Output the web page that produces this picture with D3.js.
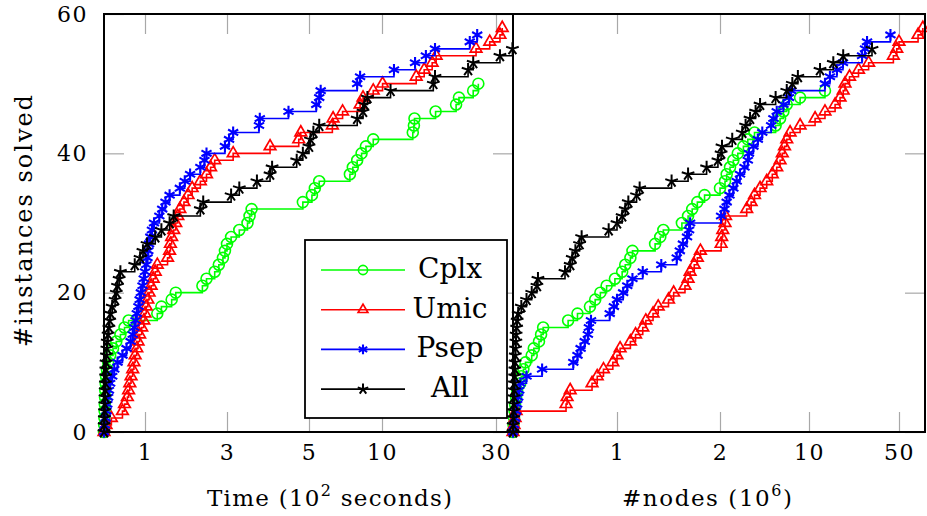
<!DOCTYPE html>
<html>
<head>
<meta charset="utf-8">
<script src="https://cdn.jsdelivr.net/npm/d3@7"></script>
<style>
  body { margin: 0; background: #fff; }
  svg { display: block; }
  text { font-family: "DejaVu Serif", serif; fill: #000; }
</style>
</head>
<body>
<svg id="chart" width="927" height="516"></svg>
<script>
// times (10^2 s) at which the k-th instance is solved, index = #instances
const cplxTime = [0, 0.005, 0.01, 0.015, 0.02, 0.025, 0.03, 0.04, 0.05, 0.07, 0.1, 0.15, 0.22, 0.3, 0.4, 0.5, 0.6, 1.3, 1.4, 1.65, 1.75, 2.4, 2.5, 2.7, 2.8, 2.9, 2.95, 3.0, 3.1, 3.3, 3.5, 3.55, 3.6, 4.85, 5.2, 5.4, 5.7, 7.8, 8.0, 8.3, 8.6, 8.9, 9.4, 15.4, 15.6, 15.7, 19.4, 23.0, 23.5, 26.0, 26.9]
const umicTime = [0, 0.05, 0.18, 0.45, 0.5, 0.57, 0.6, 0.63, 0.66, 0.7, 0.73, 0.76, 0.8, 0.83, 0.87, 0.92, 0.97, 1.0, 1.03, 1.07, 1.1, 1.15, 1.2, 1.25, 1.3, 1.55, 1.6, 1.62, 1.65, 1.7, 1.75, 1.8, 1.85, 1.95, 2.05, 2.15, 2.35, 2.5, 2.6, 2.7, 3.15, 4.05, 4.75, 4.8, 6.6, 6.65, 7.3, 8.5, 8.7, 9.4, 10.1, 16.0, 17.4, 18.8, 19.5, 26.5, 28.9, 30.7, 31.1]
const psepTime = [0, 0.02, 0.04, 0.06, 0.08, 0.1, 0.12, 0.15, 0.2, 0.25, 0.33, 0.45, 0.55, 0.65, 0.7, 0.74, 0.77, 0.8, 0.84, 0.87, 0.9, 0.94, 0.97, 1.0, 1.03, 1.06, 1.08, 1.1, 1.13, 1.17, 1.22, 1.35, 1.42, 1.5, 1.6, 1.85, 1.97, 2.1, 2.35, 2.45, 2.5, 2.95, 3.05, 3.15, 3.78, 3.8, 4.5, 5.5, 5.7, 5.8, 8.3, 8.5, 12.1, 15.8, 17.7, 19.3, 25.4, 26.7]
const allTime = [0, 0.005, 0.01, 0.015, 0.02, 0.025, 0.03, 0.035, 0.04, 0.045, 0.05, 0.06, 0.07, 0.08, 0.1, 0.12, 0.14, 0.16, 0.2, 0.27, 0.3, 0.33, 0.37, 0.4, 0.75, 0.88, 0.95, 1.05, 1.25, 1.4, 1.6, 1.7, 2.35, 2.42, 3.1, 3.3, 3.73, 4.05, 4.1, 4.7, 4.85, 5.0, 5.1, 5.3, 5.7, 8.3, 8.7, 8.8, 9.0, 11.5, 19.0, 19.3, 25.1, 26.0, 30.7, 32.9]

// nodes (10^6) needed for the k-th instance
const cplxNodes = [0, 0.005, 0.01, 0.015, 0.02, 0.03, 0.04, 0.07, 0.08, 0.1, 0.12, 0.18, 0.2, 0.25, 0.27, 0.29, 0.53, 0.62, 0.74, 0.79, 0.84, 0.9, 0.98, 1.05, 1.08, 1.13, 1.15, 1.37, 1.42, 1.45, 1.63, 1.69, 1.73, 1.78, 1.85, 2.0, 2.45, 2.6, 2.9, 3.2, 3.6, 4.1, 4.5, 5.1, 7.0, 7.4, 7.7, 8.0, 9.2, 17.1]
const umicNodes = [0, 0.01, 0.02, 0.03, 0.51, 0.52, 0.55, 0.76, 0.81, 0.87, 0.96, 1.0, 1.03, 1.13, 1.18, 1.25, 1.28, 1.35, 1.4, 1.5, 1.55, 1.66, 1.69, 1.71, 1.75, 1.78, 1.81, 2.1, 2.15, 2.25, 2.45, 2.5, 4.4, 4.8, 5.1, 5.6, 6.2, 6.7, 7.1, 7.4, 7.6, 7.8, 8.0, 8.3, 9.2, 12.7, 17.1, 21.6, 23.8, 25.2, 26, 28, 32, 36.5, 47.5, 49, 50, 58.8, 61]
const psepNodes = [0, 0.01, 0.02, 0.03, 0.04, 0.05, 0.06, 0.07, 0.13, 0.28, 0.58, 0.62, 0.65, 0.69, 0.72, 0.73, 0.75, 0.93, 0.97, 1.0, 1.06, 1.1, 1.15, 1.25, 1.43, 1.58, 1.61, 1.64, 1.68, 1.7, 1.71, 2.1, 2.4, 2.6, 2.85, 3.2, 3.5, 3.8, 4.2, 4.5, 4.6, 5.0, 5.4, 5.8, 6.6, 6.8, 7.1, 7.7, 8.2, 8.4, 17.1, 19.3, 22.4, 25.1, 33.6, 34.9, 35.8, 46.2]
const allNodes = [0, 0.002, 0.004, 0.006, 0.008, 0.01, 0.012, 0.014, 0.016, 0.018, 0.02, 0.022, 0.025, 0.028, 0.03, 0.035, 0.04, 0.05, 0.08, 0.13, 0.18, 0.23, 0.24, 0.5, 0.55, 0.57, 0.6, 0.64, 0.66, 0.92, 1.0, 1.05, 1.08, 1.11, 1.19, 1.22, 1.53, 1.69, 1.87, 1.98, 2.1, 2.18, 3.1, 4.0, 4.3, 4.7, 5.2, 5.6, 7.0, 8.0, 8.5, 9.0, 14.9, 20.8, 25.2, 38]

const seriesNames = ["Cplx", "Umic", "Psep", "All"]
const seriesColors = ["#00ff00", "#ff0000", "#0000ff", "#000000"]
const seriesMarks = ["circle", "triangle", "asterisk", "star"]
const yTicks = [0, 20, 40, 60]
const timeTicks = [1, 3, 5, 10, 30]
const nodeTicks = [1, 2, 10, 50]

const svg = d3.select("#chart")

const plotTop = 14, plotBottom = 432
const y = d3.scaleLinear().domain([0, 60]).range([plotBottom, plotTop])
// the x axes are stretched piecewise like the original figure
const xTime = d3.scaleLinear().domain([0, 5, 10, 30, 33]).range([104, 309, 382, 496, 513])
const xNodes = d3.scaleLinear().domain([0, 1, 2, 10, 50, 62]).range([513, 617, 720, 809, 899, 925])

// pgfplots-like marks
const markTypes = {
    circle: { draw(ctx, size) { const r = Math.sqrt(size); ctx.moveTo(r, 0); ctx.arc(0, 0, r, 0, 2 * Math.PI) } },
    triangle: { draw(ctx, size) {
        const r = Math.sqrt(size) * 1.15
        ctx.moveTo(0, -r); ctx.lineTo(r * 0.866, r * 0.5); ctx.lineTo(-r * 0.866, r * 0.5); ctx.closePath()
    } },
    asterisk: { draw(ctx, size) {
        const r = Math.sqrt(size)
        for (let a of [90, 30, -30]) {
            const t = a * Math.PI / 180
            ctx.moveTo(r * Math.cos(t), -r * Math.sin(t)); ctx.lineTo(-r * Math.cos(t), r * Math.sin(t))
        }
    } },
    star: { draw(ctx, size) {
        const r = Math.sqrt(size)
        for (let k = 0; k < 5; k++) {
            const t = (90 + 72 * k) * Math.PI / 180
            ctx.moveTo(0, 0); ctx.lineTo(r * Math.cos(t), -r * Math.sin(t))
        }
    } }
}
const markSize = { circle: 30, triangle: 34, asterisk: 34, star: 44 }
const markWidth = { circle: 1.6, triangle: 1.7, asterisk: 2.1, star: 2.0 }

function drawAxes(x, ticks, leftTicks) {
    const tickCol = "#a8a8a8"
    const gb = svg.append("g").attr("transform", "translate(0," + plotBottom + ")")
        .call(d3.axisBottom(x).tickValues(ticks).tickSizeInner(-20).tickSizeOuter(0).tickPadding(12))
    gb.select(".domain").remove()
    gb.selectAll(".tick line").attr("stroke", tickCol).attr("stroke-width", 1.2)
    gb.selectAll(".tick text").attr("font-family", "DejaVu Serif").attr("font-size", 22).attr("letter-spacing", 1.5)

    const gt = svg.append("g").attr("transform", "translate(0," + plotTop + ")")
        .call(d3.axisTop(x).tickValues(ticks).tickSizeInner(-20).tickSizeOuter(0).tickFormat(""))
    gt.select(".domain").remove()
    gt.selectAll(".tick line").attr("stroke", tickCol).attr("stroke-width", 1.2)

    const x0 = x.range()[0], x1 = x.range()[x.range().length - 1]
    if (leftTicks) {
        const gl = svg.append("g").attr("transform", "translate(" + x0 + ",0)")
            .call(d3.axisLeft(y).tickValues(yTicks).tickSizeInner(-20).tickSizeOuter(0).tickPadding(16))
        gl.select(".domain").remove()
        gl.selectAll(".tick line").attr("stroke", tickCol).attr("stroke-width", 1.2)
        gl.selectAll(".tick text").attr("font-family", "DejaVu Serif").attr("font-size", 22).attr("letter-spacing", 1.5)
    }
    const gr = svg.append("g").attr("transform", "translate(" + x1 + ",0)")
        .call(d3.axisRight(y).tickValues(yTicks).tickSizeInner(-20).tickSizeOuter(0).tickFormat(""))
    gr.select(".domain").remove()
    gr.selectAll(".tick line").attr("stroke", tickCol).attr("stroke-width", 1.2)
}

function drawSeries(x, lists) {
    lists.forEach((vals, i) => {
        const pts = vals.map((v, k) => [v, k])
        const line = d3.line().x(d => x(d[0])).y(d => y(d[1])).curve(d3.curveStepAfter)
        svg.append("path").datum(pts)
            .attr("d", line)
            .attr("fill", "none")
            .attr("stroke", seriesColors[i])
            .attr("stroke-width", 1.6)
        const m = seriesMarks[i]
        svg.append("g").selectAll("path").data(pts).join("path")
            .attr("transform", d => "translate(" + x(d[0]) + "," + y(d[1]) + ")")
            .attr("d", d3.symbol().type(markTypes[m]).size(markSize[m]))
            .attr("fill", "none")
            .attr("stroke", seriesColors[i])
            .attr("stroke-width", markWidth[m])
    })
}

drawAxes(xTime, timeTicks, true)
drawAxes(xNodes, nodeTicks, false)
drawSeries(xTime, [cplxTime, umicTime, psepTime, allTime])
drawSeries(xNodes, [cplxNodes, umicNodes, psepNodes, allNodes])

// frames
svg.append("rect").attr("x", 104).attr("y", plotTop).attr("width", 513 - 104).attr("height", plotBottom - plotTop)
    .attr("fill", "none").attr("stroke", "#000").attr("stroke-width", 2)
svg.append("rect").attr("x", 513).attr("y", plotTop).attr("width", 925 - 513).attr("height", plotBottom - plotTop)
    .attr("fill", "none").attr("stroke", "#000").attr("stroke-width", 2)

// axis labels
const xl = svg.append("text").attr("x", 207).attr("y", 506).attr("font-size", 23)
    .attr("textLength", 245).attr("lengthAdjust", "spacing")
xl.append("tspan").text("Time (10")
xl.append("tspan").attr("font-size", 16).attr("dy", -10).text("2")
xl.append("tspan").attr("dy", 10).text(" seconds)")

const nl = svg.append("text").attr("x", 622).attr("y", 506).attr("font-size", 23)
    .attr("textLength", 170).attr("lengthAdjust", "spacing")
nl.append("tspan").text("#nodes (10")
nl.append("tspan").attr("font-size", 16).attr("dy", -10).text("6")
nl.append("tspan").attr("dy", 10).text(")")

svg.append("text")
    .attr("transform", "translate(32,221) rotate(-90)")
    .attr("text-anchor", "middle")
    .attr("font-size", 24)
    .attr("textLength", 252)
    .attr("lengthAdjust", "spacing")
    .text("#instances solved")

// legend
const lg = svg.append("g")
lg.append("rect").attr("x", 305).attr("y", 240).attr("width", 202).attr("height", 178)
    .attr("fill", "#fff").attr("stroke", "#000").attr("stroke-width", 1.8)
seriesNames.forEach((name, i) => {
    const cy = 270 + i * 39.7
    lg.append("line").attr("x1", 321).attr("x2", 405).attr("y1", cy).attr("y2", cy)
        .attr("stroke", seriesColors[i]).attr("stroke-width", 1.6)
    const m = seriesMarks[i]
    lg.append("path").attr("transform", "translate(363," + cy + ")")
        .attr("d", d3.symbol().type(markTypes[m]).size(markSize[m] * 0.7))
        .attr("fill", "none").attr("stroke", seriesColors[i]).attr("stroke-width", markWidth[m])
    lg.append("text").attr("x", 450).attr("y", cy + 8).attr("text-anchor", "middle")
        .attr("font-size", 28).text(name)
})
</script>
</body>
</html>
